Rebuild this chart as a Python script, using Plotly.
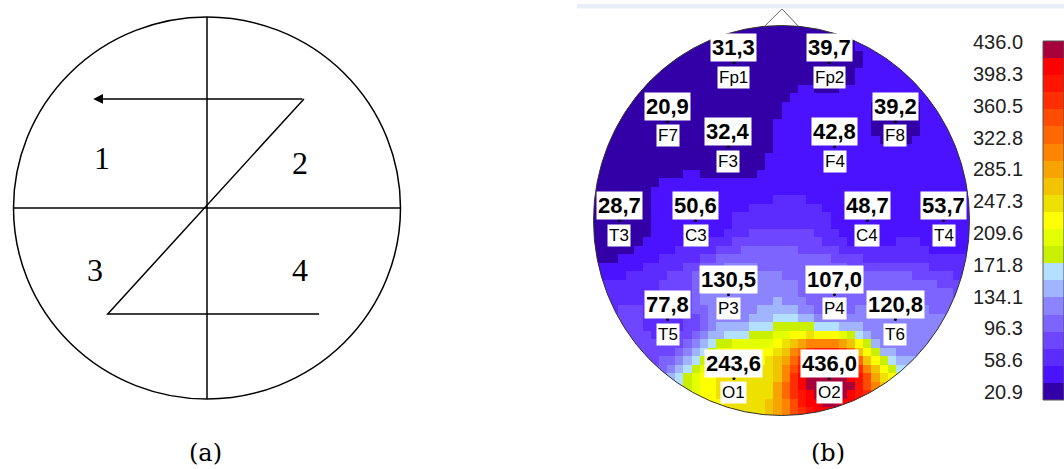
import numpy as np
import plotly.graph_objects as go

# ---------------- data ----------------
electrodes = ["Fp1", "Fp2", "F7", "F3", "F4", "F8", "T3", "C3", "C4", "T4",
              "T5", "P3", "P4", "T6", "O1", "O2"]
values = [31.3, 39.7, 20.9, 32.4, 42.8, 39.2, 28.7, 50.6, 48.7, 53.7,
          77.8, 130.5, 107.0, 120.8, 243.6, 436.0]
# electrode positions on a unit head (x: right, y: towards nose)
elec_x = [-0.253, 0.253, -0.606, -0.282, 0.282, 0.606, -0.862, -0.457, 0.457, 0.862,
          -0.606, -0.282, 0.282, 0.606, -0.253, 0.253]
elec_y = [0.810, 0.810, 0.508, 0.379, 0.379, 0.508, 0.0, 0.0, 0.0, 0.0,
          -0.508, -0.379, -0.379, -0.508, -0.810, -0.810]
cbar_ticks = [436.0, 398.3, 360.5, 322.8, 285.1, 247.3, 209.6, 171.8, 134.1, 96.3, 58.6, 20.9]
band_colors = ["#3200A6", "#4A12FF", "#5C2CFF", "#6E46FF", "#7E64FF", "#8C84FF",
               "#A0B4FF", "#B4E0FF", "#C8F000", "#E4FF00", "#FFFF00", "#EEE000",
               "#F2C400", "#F8A400", "#FF8400", "#FF6800", "#FF4C00", "#FF2E00",
               "#FF1400", "#FF0000", "#A8003A"]
vmin, vmax = 20.9, 436.0

# panel (a) schematic
quad_labels = ["1", "2", "3", "4"]
quad_x = [-0.544, 0.481, -0.579, 0.481]
quad_y = [0.262, 0.236, -0.325, -0.325]
z_path_x = [0.501, -0.513, 0.579]
z_path_y = [0.571, -0.555, -0.555]
arrow_tip = (-0.588, 0.571)

# ---------------- helpers ----------------
W, H = 1064, 469
def px(x):
    return x / W
def py(y):
    return (H - y) / H

nb = len(band_colors)
cscale = []
for k, c in enumerate(band_colors):
    cscale.append([k / nb, c])
    cscale.append([(k + 1) / nb, c])

# interpolated map (inverse distance weighting)
N = 46
g = -1 + (np.arange(N) + 0.5) * 2 / N
GX, GY = np.meshgrid(g, g)
ex = np.array(elec_x); ey = np.array(elec_y); ev = np.array(values)
d = np.sqrt((GX[..., None] - ex) ** 2 + (GY[..., None] - ey) ** 2)
d = np.maximum(d, 1e-6)
w = 1 / d ** 3
Z = (w * ev).sum(-1) / w.sum(-1)
Z = np.where(np.sqrt(GX ** 2 + GY ** 2) < 1.04, Z, np.nan)
Zl = [[None if np.isnan(v) else float(v) for v in row] for row in Z]

fig = go.Figure()

# head map
fig.add_trace(go.Heatmap(x=g, y=g, z=Zl, colorscale=cscale, zmin=vmin, zmax=vmax,
                         showscale=False, xaxis="x2", yaxis="y2", hoverinfo="skip"))
fig.add_trace(go.Scatter(x=elec_x, y=elec_y, mode="markers", xaxis="x2", yaxis="y2",
                         marker=dict(color="black", size=3), hoverinfo="skip"))

# colour bar
edges = list(np.linspace(vmin, vmax, nb + 1))
centers = [[(edges[k] + edges[k + 1]) / 2] for k in range(nb)]
fig.add_trace(go.Heatmap(x=[0, 1], y=edges, z=centers, colorscale=cscale, zmin=vmin, zmax=vmax,
                         showscale=False, xaxis="x3", yaxis="y3", hoverinfo="skip"))
fig.add_trace(go.Scatter(x=[0], y=[vmin], mode="markers", marker=dict(opacity=0),
                         xaxis="x4", yaxis="y4", hoverinfo="skip"))
# panel a dummy
fig.add_trace(go.Scatter(x=[0], y=[0], mode="markers", marker=dict(opacity=0), hoverinfo="skip"))

shapes = []
# panel (a)
line_a = dict(color="black", width=1.5)
shapes.append(dict(type="circle", xref="x", yref="y", x0=-1, x1=1, y0=-1, y1=1, line=line_a))
shapes.append(dict(type="line", xref="x", yref="y", x0=0, x1=0, y0=-1, y1=1, line=line_a))
shapes.append(dict(type="line", xref="x", yref="y", x0=-1, x1=1, y0=0, y1=0, line=line_a))
path = "M " + " L ".join(f"{x},{y}" for x, y in zip(z_path_x, z_path_y))
shapes.append(dict(type="path", xref="x", yref="y", path=path, line=line_a))

# panel (b): mask ring outside head, outline, nose
t = np.linspace(0, 2 * np.pi, 241)
outer = " L ".join(f"{1.075*np.cos(a):.4f},{1.075*np.sin(a):.4f}" for a in t)
inner = " L ".join(f"{np.cos(a):.4f},{np.sin(a):.4f}" for a in t[::-1])
shapes.append(dict(type="path", xref="x2", yref="y2", path=f"M {outer} Z M {inner} Z",
                   fillcolor="white", line=dict(width=0), layer="above"))
shapes.append(dict(type="circle", xref="x2", yref="y2", x0=-1, x1=1, y0=-1, y1=1,
                   line=dict(color="#333333", width=1), layer="above"))
shapes.append(dict(type="path", xref="x2", yref="y2",
                   path="M -0.09,0.996 L 0.003,1.085 L 0.09,0.996",
                   line=dict(color="#666666", width=1), layer="above"))
# colour bar border
shapes.append(dict(type="rect", xref="x3 domain", yref="y3 domain", x0=0, x1=1, y0=0, y1=1,
                   line=dict(color="#555555", width=1), layer="above"))
# top light strip
shapes.append(dict(type="rect", xref="paper", yref="paper", x0=px(577), x1=1, y0=py(8.5), y1=py(4),
                   fillcolor="#E8EEF7", line=dict(width=0), layer="above"))

ann = []
# arrow of panel (a)
ann.append(dict(x=arrow_tip[0], y=arrow_tip[1], ax=z_path_x[0], ay=z_path_y[0], xref="x", yref="y",
                axref="x", ayref="y", text="", showarrow=True, arrowhead=2, arrowsize=1.3,
                arrowwidth=1.5, arrowcolor="black", standoff=0, startstandoff=0))
for lab, x, y in zip(quad_labels, quad_x, quad_y):
    ann.append(dict(x=x, y=y, xref="x", yref="y", text=lab, showarrow=False,
                    font=dict(family="Liberation Serif", size=32, color="black")))

for name, v, x, y in zip(electrodes, values, elec_x, elec_y):
    ann.append(dict(x=x, y=y, xref="x2", yref="y2", text="<b>" + f"{v:.1f}".replace(".", ",") + "</b>",
                    showarrow=False, yanchor="bottom", yshift=0.5, bgcolor="white", borderpad=1,
                    font=dict(family="Liberation Sans", size=22, color="black")))
    ann.append(dict(x=x, y=y, xref="x2", yref="y2", text=name, showarrow=False, yanchor="top",
                    yshift=-3, bgcolor="white", borderpad=1,
                    font=dict(family="Liberation Sans", size=17, color="black")))

for tv in cbar_ticks:
    ann.append(dict(x=px(1025), y=tv, xref="paper", yref="y4", text=f"{tv:.1f}", showarrow=False,
                    xanchor="right", yanchor="middle",
                    font=dict(family="Liberation Sans", size=20, color="#222222")))

for lab, xc in (("(a)", 205), ("(b)", 828)):
    ann.append(dict(x=px(xc), y=py(453), xref="paper", yref="paper", text=lab, showarrow=False,
                    xanchor="center", yanchor="middle",
                    font=dict(family="DejaVu Serif", size=24, color="black")))

hidden = dict(visible=False, showgrid=False, zeroline=False)
fig.update_layout(
    width=W, height=H, margin=dict(l=0, r=0, t=0, b=0),
    paper_bgcolor="white", plot_bgcolor="rgba(0,0,0,0)", showlegend=False,
    xaxis=dict(domain=[0, px(414)], range=[-207 / 193.5, 207 / 193.5], **hidden),
    yaxis=dict(domain=[0, 1], range=[-(H - 208) / 191, 208 / 191], **hidden),
    xaxis2=dict(domain=[px(581.5), px(981.5)], range=[-200 / 188, 200 / 188], anchor="y2", **hidden),
    yaxis2=dict(domain=[0, 1], range=[-(H - 220.5) / 195, 220.5 / 195], anchor="x2", **hidden),
    xaxis3=dict(domain=[px(1043), 1], range=[0, 1], anchor="y3", **hidden),
    yaxis3=dict(domain=[py(400), py(41)], range=[vmin, vmax], anchor="x3", **hidden),
    xaxis4=dict(domain=[0.9, 0.95], range=[0, 1], anchor="y4", **hidden),
    yaxis4=dict(domain=[py(392), py(42.3)], range=[vmin, vmax], anchor="x4", **hidden),
    shapes=shapes, annotations=ann,
)
fig.write_html("out.html")
